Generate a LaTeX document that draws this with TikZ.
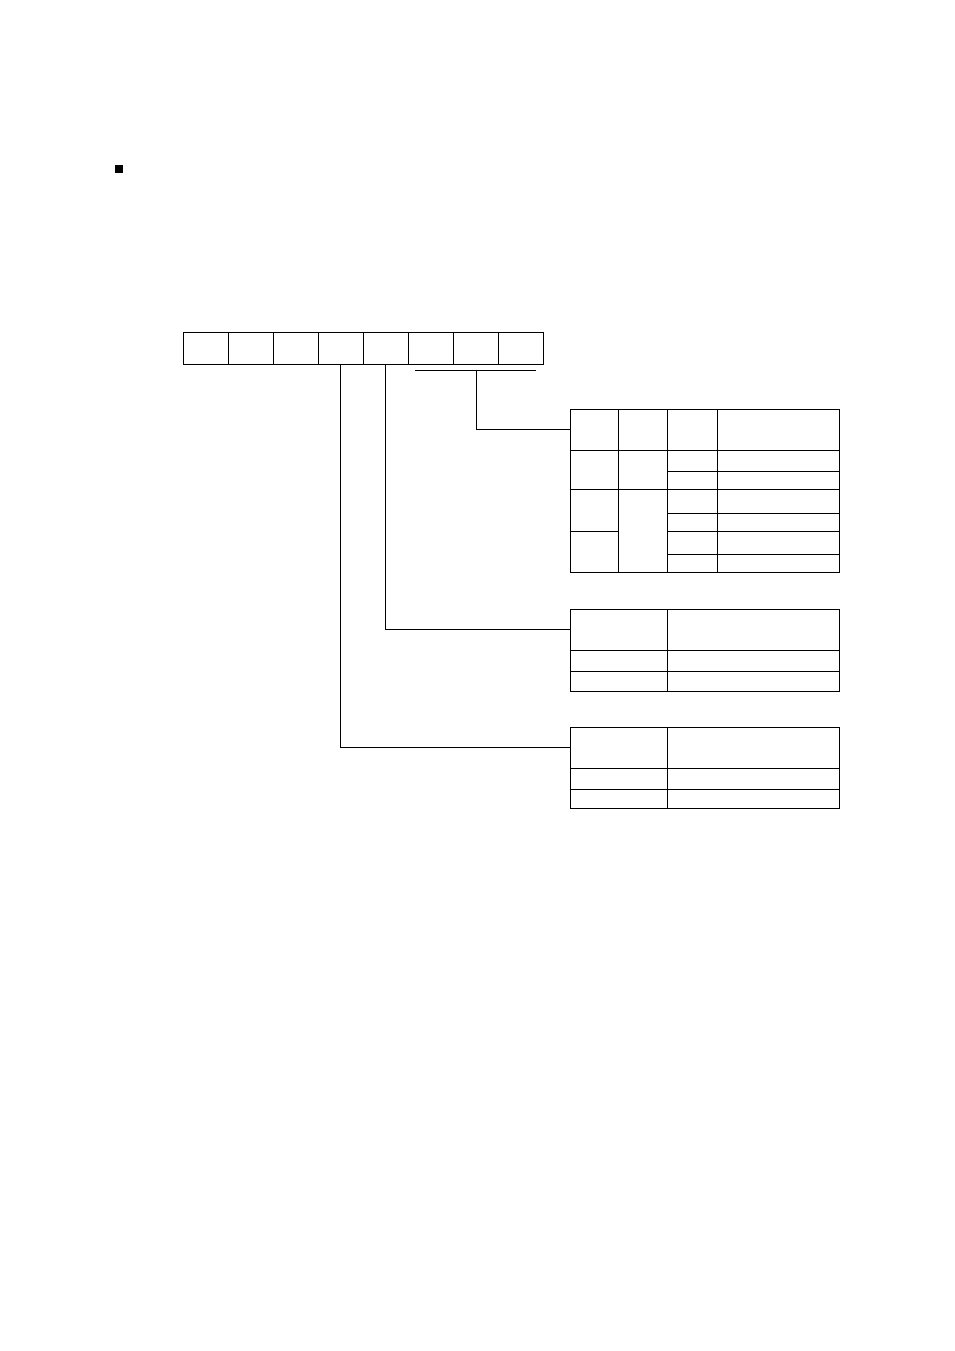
\documentclass[tikz,border=0pt]{standalone}
\usetikzlibrary{fit}
\begin{document}
\begin{tikzpicture}[x=0.75pt,y=-0.75pt,line width=0.7pt]
\tikzstyle{cell}=[draw,rectangle,inner sep=0,outer sep=0]
\useasboundingbox (0,0) rectangle (954,1351);
\fill (115,165) rectangle (123,173);
% register, b7 left ... b0 right
\foreach \i in {0,...,7}
  \node[cell,fit={({543-45*(\i+1)},332) ({543-45*\i},364)}] (b\i) {};
\coordinate (brL) at (415,370);
\coordinate (brR) at (536,370);
\coordinate (brM) at (476,370);
\draw (brL) -- (brR);
% table for b2..b0
\node[cell,fit={(570,409) (839,572)}] (tabA) {};
\node[cell,fit={(570,409) (839,450)}] (tabAhead) {};
\draw (618,409) -- (618,572);
\draw (667,409) -- (667,572);
\draw (717,409) -- (717,572);
\draw (570,489) -- (839,489);
\draw (570,531) -- (618,531);
\foreach \y in {471,513,531,554}
  \draw (667,\y) -- (839,\y);
% table for b3
\node[cell,fit={(570,609) (839,691)}] (tabB) {};
\node[cell,fit={(570,609) (839,650)}] (tabBhead) {};
\draw (667,609) -- (667,691);
\draw (570,671) -- (839,671);
% table for b4
\node[cell,fit={(570,727) (839,808)}] (tabC) {};
\node[cell,fit={(570,727) (839,768)}] (tabChead) {};
\draw (667,727) -- (667,808);
\draw (570,789) -- (839,789);
% connectors
\draw (brM) |- (tabAhead.west);
\draw (b3.south) |- (tabBhead.west);
\draw (b4.south) |- (tabChead.west);
\end{tikzpicture}
\end{document}
